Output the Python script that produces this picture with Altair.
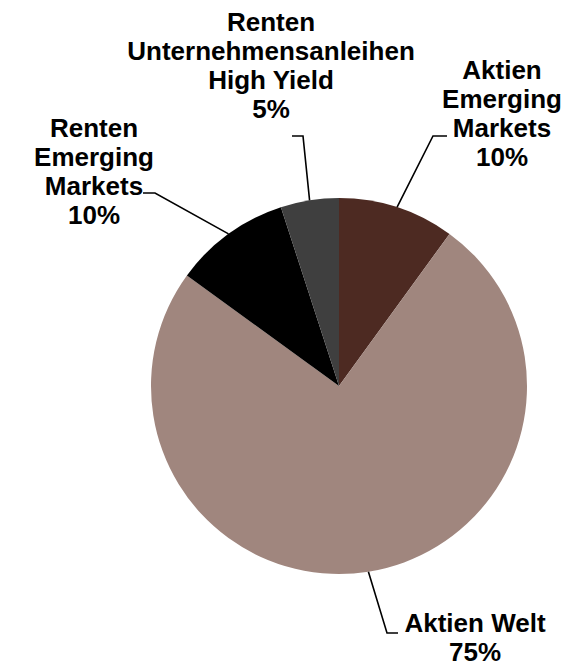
import math
import altair as alt
import pandas as pd

# ---- data ----
categories = [
    "Aktien Emerging Markets",
    "Aktien Welt",
    "Renten Emerging Markets",
    "Renten Unternehmensanleihen High Yield",
]
shares = [10, 75, 10, 5]
label_lines = [
    ["Aktien", "Emerging", "Markets"],
    ["Aktien Welt"],
    ["Renten", "Emerging", "Markets"],
    ["Renten", "Unternehmensanleihen", "High Yield"],
]
colors = ["#4D2A22", "#A0867E", "#000000", "#3F3F3F"]

# ---- layout (pixels) ----
W, H = 570, 666
CX, CY, R = 339, 386, 188
label_anchor = [(502, 79), (475, 632), (94, 137), (271, 31)]   # centre x, first baseline
leader_elbow = [(433, 136), (387, 633), (155, 193), (303, 136)]
leader_end = [(447, 136), (398, 633), (143, 193), (292, 136)]

pie_df = pd.DataFrame({"cat": categories, "share": shares, "ord": range(len(categories))})

total = sum(shares)
rows_lines = []
rows_text = []
cum = 0
for i, (c, s) in enumerate(zip(categories, shares)):
    mid = (cum + s / 2) / total * 2 * math.pi
    cum += s
    ex = CX + R * math.sin(mid)
    ey = CY - R * math.cos(mid)
    pts = [(ex, ey), leader_elbow[i], leader_end[i]]
    for k, (px, py) in enumerate(pts):
        rows_lines.append({"cat": c, "k": k, "px": px, "py": py})
    txt = "\n".join(label_lines[i] + [f"{s}%"])
    rows_text.append({"cat": c, "px": label_anchor[i][0], "py": label_anchor[i][1], "txt": txt})

line_df = pd.DataFrame(rows_lines)
text_df = pd.DataFrame(rows_text)

xs = alt.Scale(domain=[0, W], range=[0, W])
ys = alt.Scale(domain=[0, H], range=[0, H])

pie = alt.Chart(pie_df).mark_arc(outerRadius=R).encode(
    theta=alt.Theta("share:Q", stack=True),
    color=alt.Color("cat:N", scale=alt.Scale(domain=categories, range=colors), legend=None),
    order=alt.Order("ord:Q"),
    x=alt.value(CX),
    y=alt.value(CY),
)

leaders = alt.Chart(line_df).mark_line(color="black", strokeWidth=1.6).encode(
    x=alt.X("px:Q", scale=xs, axis=None),
    y=alt.Y("py:Q", scale=ys, axis=None),
    detail="cat:N",
    order="k:Q",
)

labels = alt.Chart(text_df).mark_text(
    align="center", baseline="alphabetic", fontSize=26, fontWeight="bold",
    font="Liberation Sans", lineBreak="\n", lineHeight=29, color="black",
).encode(
    x=alt.X("px:Q", scale=xs, axis=None),
    y=alt.Y("py:Q", scale=ys, axis=None),
    text="txt:N",
)

chart = alt.layer(pie, leaders, labels).properties(
    width=W, height=H, padding=0, autosize=alt.AutoSizeParams(type="none"),
    background="white",
).configure_view(stroke=None)

chart.save("out.html", embed_options={"renderer": "svg", "actions": False})
